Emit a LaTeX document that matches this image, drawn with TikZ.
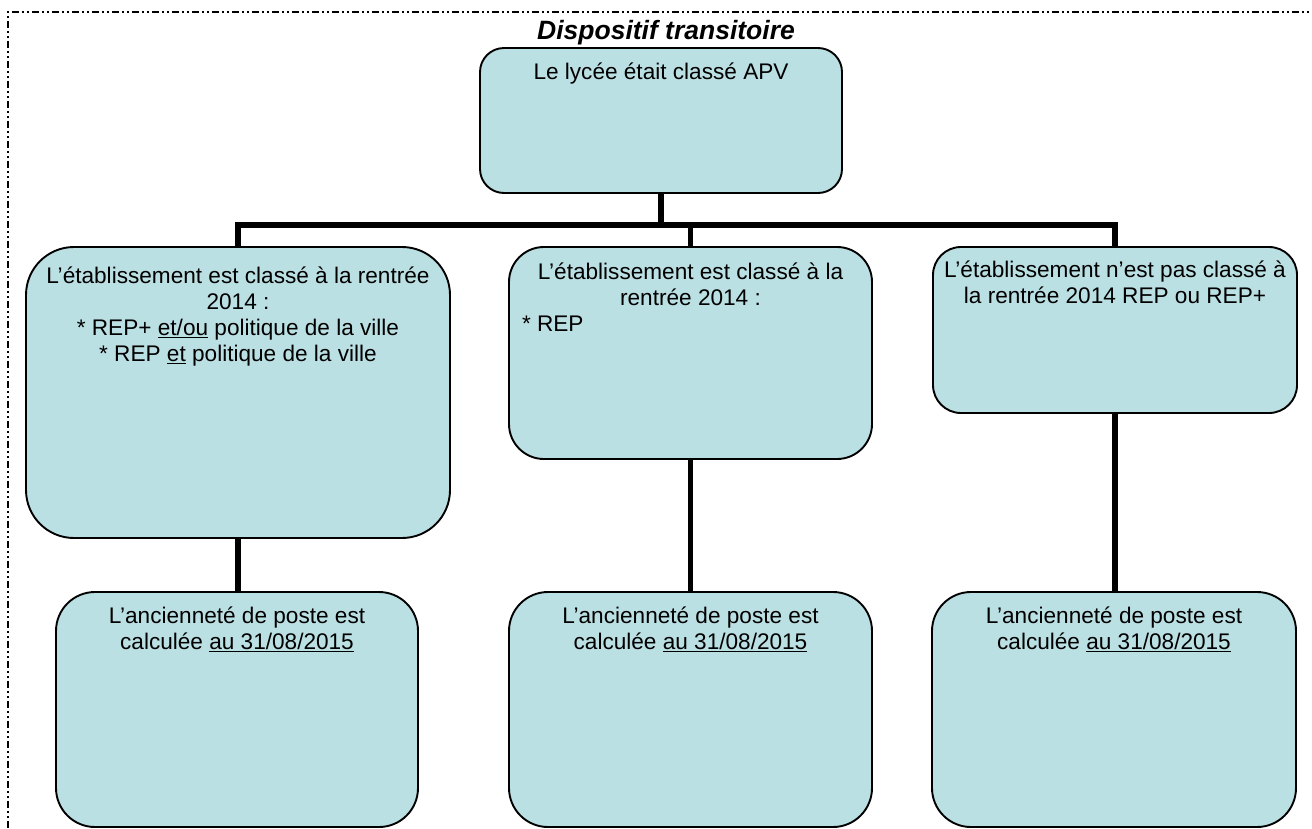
\documentclass[tikz,border=0pt]{standalone}
\usepackage{fontspec}
\setmainfont{Liberation Sans}
\definecolor{boxfill}{RGB}{187,224,227}
\tikzset{
  box/.style={draw, line width=1.9pt, fill=boxfill, inner sep=0pt},
  boxtext/.style={anchor=north, inner sep=0pt, align=center,
    font=\fontsize{22.6}{26}\selectfont},
  link/.style={line width=5.5pt},
  frame/.style={line width=1.5pt,
    dash pattern=on 7pt off 3pt on 2pt off 3pt on 2pt off 3pt},
}
\begin{document}
\begin{tikzpicture}[x=1pt,y=-1pt]
                \useasboundingbox (0,0) rectangle (1312,828);
                \draw[frame] (8,828) -- (8,12) -- (1312,12);
                \node[font=\fontsize{26.5}{30}\selectfont\bfseries\itshape] (titre) at (666,33) {Dispositif transitoire};
                % boxes
                \node[box, minimum width=362pt, minimum height=145pt, rounded corners=24pt] (apv) at (661,120.5) {};
                \node[box, minimum width=424pt, minimum height=291pt, rounded corners=48pt] (repplus) at (238,392.5) {};
                \node[box, minimum width=363pt, minimum height=212pt, rounded corners=35pt] (rep) at (690.5,353) {};
                \node[box, minimum width=364pt, minimum height=166pt, rounded corners=28pt] (horsrep) at (1115,330) {};
                \node[box, minimum width=362pt, minimum height=235pt, rounded corners=39pt] (anc1) at (237,709.5) {};
                \node[box, minimum width=363pt, minimum height=235pt, rounded corners=39pt] (anc2) at (690.5,709.5) {};
                \node[box, minimum width=364pt, minimum height=235pt, rounded corners=39pt] (anc3) at (1114,709.5) {};
                % texts
                \node[boxtext] (apvtxt) at ([yshift=-15.5pt]apv.north) {Le lycée était classé APV};
                \node[boxtext] (repplustxt) at ([yshift=-20.5pt]repplus.north) {L’établissement est classé à la rentrée\\2014 :\\* REP+ \underline{et/ou} politique de la ville\\* REP \underline{et} politique de la ville};
                \node[boxtext] (reptxt) at ([yshift=-16.5pt]rep.north) {L’établissement est classé à la\\rentrée 2014 :\\\makebox[337pt][l]{* REP}};
                \node[boxtext] (horsreptxt) at ([yshift=-14.5pt]horsrep.north) {L’établissement n’est pas classé à\\la rentrée 2014 REP ou REP+};
                \foreach \b in {anc1,anc2,anc3}
                  \node[boxtext] (\b txt) at ([yshift=-16pt]\b.north) {L’ancienneté de poste est\\calculée \underline{au 31/08/2015}};
                % connectors
                \coordinate (bus) at (661,225);
                \draw[link] (apv.south) -- (bus);
                \draw[link] (repplus.north) |- (bus) -| (horsrep.north);
                \draw[link] (rep.north) -- (rep.north |- bus);
                \draw[link] (repplus.south) -- (repplus.south |- anc1.north);
                \draw[link] (rep.south) -- (anc2.north);
                \draw[link] (horsrep.south) -- (horsrep.south |- anc3.north);
            \end{tikzpicture}
\end{document}
